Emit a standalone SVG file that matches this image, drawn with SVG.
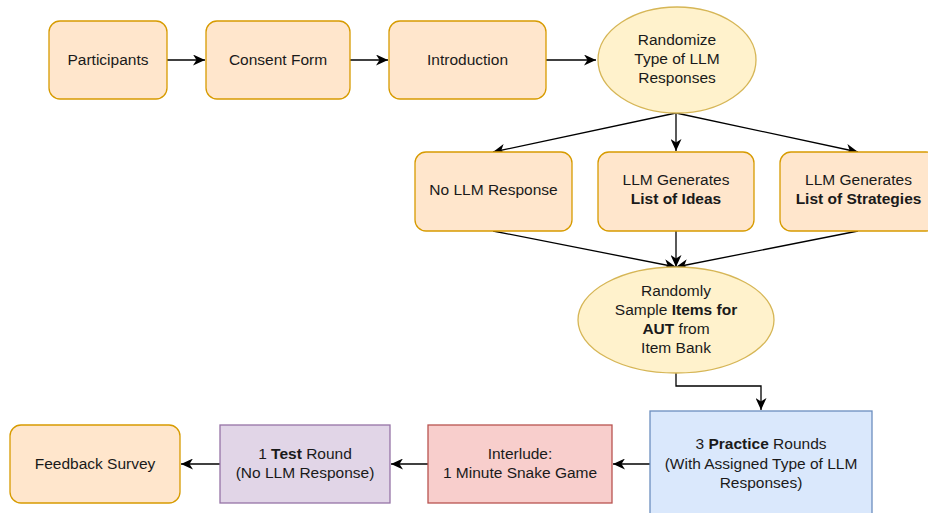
<svg xmlns="http://www.w3.org/2000/svg" width="928" height="513" viewBox="0 0 928 513">
<style>
text{font-family:"Liberation Sans",Arial,Helvetica,sans-serif;font-size:15.5px;fill:#1a1a1a;text-anchor:middle}
.b{font-weight:bold}
.or{fill:#ffe6cc;stroke:#d79b00;stroke-width:1.3}
.el{fill:#fff2cc;stroke:#d6b656;stroke-width:1.3}
.bl{fill:#dae8fc;stroke:#6c8ebf;stroke-width:1.3}
.pu{fill:#e1d5e7;stroke:#9673a6;stroke-width:1.3}
.re{fill:#f8cecc;stroke:#b85450;stroke-width:1.3}
.c{fill:none;stroke:#000;stroke-width:1.3;marker-end:url(#ah)}
</style>
<defs>
<marker id="ah" markerUnits="userSpaceOnUse" markerWidth="13" markerHeight="11" refX="12" refY="5.5" orient="auto">
<path d="M0,0 L12,5.5 L0,11 L3.5,5.5 z" fill="#000"/>
</marker>
</defs>
<rect width="928" height="513" fill="#fff"/>
<g id="connectors">
<path class="c" d="M156,60 H205"/>
<path class="c" d="M350,60 H388"/>
<path class="c" d="M546,60 H596"/>
<path class="c" d="M676,113 L493,152"/>
<path class="c" d="M676,113 V151"/>
<path class="c" d="M676,113 L858,152"/>
<path class="c" d="M493,231 L676,267"/>
<path class="c" d="M676,231 V267"/>
<path class="c" d="M858,231 L676,267"/>
<path class="c" d="M676,373 V386 H761 V410"/>
<path class="c" d="M650,464 H613"/>
<path class="c" d="M428,464 H391"/>
<path class="c" d="M220,464 H181"/>
</g>
<g id="participants"><rect class="or" x="49" y="21" width="118" height="78" rx="11"/><text x="108" y="64.5">Participants</text></g>
<g id="consent"><rect class="or" x="206" y="21" width="144" height="78" rx="11"/><text x="278" y="64.5">Consent Form</text></g>
<g id="intro"><rect class="or" x="389" y="21" width="157" height="78" rx="11"/><text x="467.5" y="64.5">Introduction</text></g>
<g id="randomize"><ellipse class="el" cx="677" cy="60" rx="79" ry="53"/><text x="677" y="44.5">Randomize</text><text x="677" y="63.5">Type of LLM</text><text x="677" y="82.5">Responses</text></g>
<g id="nollm"><rect class="or" x="415" y="152" width="157" height="79" rx="11"/><text x="493.5" y="194.5">No LLM Response</text></g>
<g id="ideas"><rect class="or" x="598" y="152" width="156" height="79" rx="11"/><text x="676" y="184.5">LLM Generates</text><text class="b" x="676" y="203.5">List of Ideas</text></g>
<g id="strategies"><rect class="or" x="780" y="152" width="157" height="79" rx="11"/><text x="858.5" y="184.5">LLM Generates</text><text class="b" x="858.5" y="203.5">List of Strategies</text></g>
<g id="sample"><ellipse class="el" cx="676" cy="320" rx="98" ry="53"/><text x="676" y="296">Randomly</text><text x="676" y="315">Sample <tspan class="b">Items for</tspan></text><text x="676" y="334"><tspan class="b">AUT</tspan> from</text><text x="676" y="353">Item Bank</text></g>
<g id="practice"><rect class="bl" x="650" y="411" width="222" height="106"/><text x="761" y="448.5">3 <tspan class="b">Practice</tspan> Rounds</text><text x="761" y="468.5">(With Assigned Type of LLM</text><text x="761" y="487.5">Responses)</text></g>
<g id="interlude"><rect class="re" x="428" y="425" width="184" height="78"/><text x="520" y="458.5">Interlude:</text><text x="520" y="477.5">1 Minute Snake Game</text></g>
<g id="test"><rect class="pu" x="220" y="425" width="170" height="78"/><text x="305" y="458.5">1 <tspan class="b">Test</tspan> Round</text><text x="305" y="477.5">(No LLM Response)</text></g>
<g id="feedback"><rect class="or" x="10" y="425" width="170" height="78" rx="11"/><text x="95" y="468.5">Feedback Survey</text></g>
</svg>
